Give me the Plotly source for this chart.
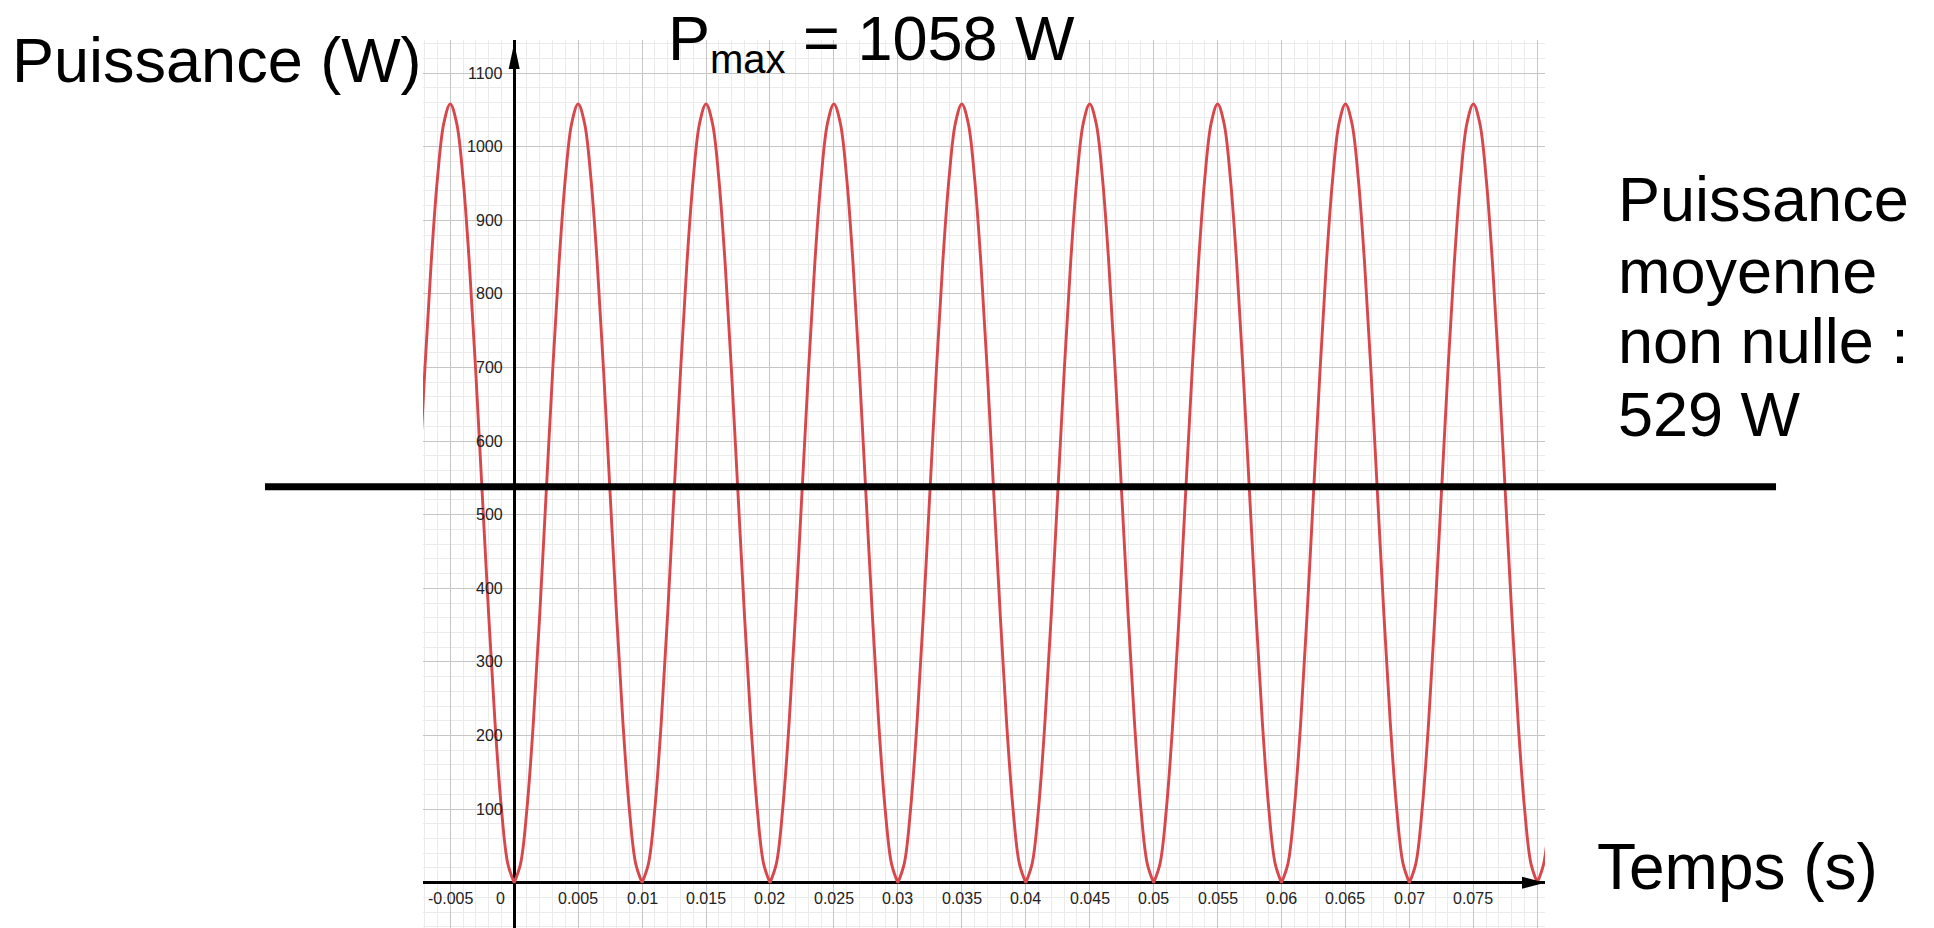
import plotly.graph_objects as go

# ---------------- data ----------------
# one period of the power curve (period 0.01 s), sampled every 0.0005 s
cycle_offsets = [0.0, 0.0005, 0.001, 0.0015, 0.002, 0.0025, 0.003, 0.0035, 0.004, 0.0045,
                 0.005, 0.0055, 0.006, 0.0065, 0.007, 0.0075, 0.008, 0.0085, 0.009, 0.0095, 0.01]
cycle_values = [0, 25.9, 101.0, 218.1, 365.5, 529, 692.5, 839.9, 957.0, 1032.1,
                1058, 1032.1, 957.0, 839.9, 692.5, 529, 365.5, 218.1, 101.0, 25.9, 0]
cycle_starts = [-0.01, 0.0, 0.01, 0.02, 0.03, 0.04, 0.05, 0.06, 0.07, 0.08]

x_tick_vals = [-0.005, 0, 0.005, 0.01, 0.015, 0.02, 0.025, 0.03, 0.035, 0.04,
               0.045, 0.05, 0.055, 0.06, 0.065, 0.07, 0.075]
x_tick_text = ["-0.005", "0", "0.005", "0.01", "0.015", "0.02", "0.025", "0.03", "0.035",
               "0.04", "0.045", "0.05", "0.055", "0.06", "0.065", "0.07", "0.075"]
y_tick_vals = [100, 200, 300, 400, 500, 600, 700, 800, 900, 1000, 1100]
y_tick_text = ["100", "200", "300", "400", "500", "600", "700", "800", "900", "1000", "1100"]

mean_line_level = 538          # level where the thick black line is drawn
y_axis_tip = 1141              # tip of the vertical axis arrow

title_left = "Puissance (W)"
title_top = "P<sub><span style='font-size:40px'>max</span></sub> = 1058 W"
right_lines = ["Puissance", "moyenne", "non nulle :", "529 W"]
x_title = "Temps (s)"

# ---------------- figure ----------------
X_RANGE = [-0.00713, 0.0806]
Y_RANGE = [-61.6, 1145]

xs, ys = [], []
for s in cycle_starts:
    for o, v in zip(cycle_offsets, cycle_values):
        xs.append(s + o)
        ys.append(v)

fig = go.Figure()
fig.add_trace(go.Scatter(x=xs, y=ys, mode="lines", line=dict(color="#d7474c", width=2.9, shape="spline"),
                         hoverinfo="skip", showlegend=False))

BIG = dict(family="Liberation Sans, Arial, sans-serif", size=63, color="black")
TICKF = dict(family="Liberation Sans, Arial, sans-serif", size=16, color="#222222")

annotations = []
for v, t in zip(x_tick_vals, x_tick_text):
    annotations.append(dict(x=v, y=0, xref="x", yref="y", text=t, showarrow=False,
                            font=TICKF, xanchor="center", yanchor="middle",
                            yshift=-16, xshift=(-14 if t == "0" else 0)))
for v, t in zip(y_tick_vals, y_tick_text):
    annotations.append(dict(x=0, y=v, xref="x", yref="y", text=t, showarrow=False,
                            font=TICKF, xanchor="right", yanchor="middle", xshift=-9))

annotations.append(dict(x=-0.3681, y=0.977, xref="paper", yref="paper", text=title_left,
                        showarrow=False, font=BIG, xanchor="left", yanchor="middle"))
annotations.append(dict(x=0.2166, y=0.998, xref="paper", yref="paper", text=title_top,
                        showarrow=False, font=BIG, xanchor="left", yanchor="middle"))
right_y = [0.821, 0.740, 0.661, 0.579]
for t, yy in zip(right_lines, right_y):
    annotations.append(dict(x=1.0633, y=yy, xref="paper", yref="paper", text=t,
                            showarrow=False, font=BIG, xanchor="left", yanchor="middle"))
annotations.append(dict(x=1.0445, y=0.0687, xref="paper", yref="paper", text=x_title,
                        showarrow=False, font=dict(BIG, size=64), xanchor="left", yanchor="middle"))

shapes = [
    dict(type="line", xref="paper", yref="y", x0=-0.1408, x1=1.2059,
         y0=mean_line_level, y1=mean_line_level, line=dict(color="black", width=7), layer="above"),
    dict(type="path", xref="x", yref="y", xsizemode="pixel", ysizemode="pixel",
         xanchor=0, yanchor=y_axis_tip, path="M -5.5 -26 L 0 0 L 5.5 -26 Z",
         fillcolor="black", line=dict(width=0)),
    dict(type="path", xref="x", yref="y", xsizemode="pixel", ysizemode="pixel",
         xanchor=X_RANGE[1], yanchor=0, path="M -23 -6 L 0 0 L -23 6 Z",
         fillcolor="black", line=dict(width=0)),
]

fig.update_layout(
    width=1934, height=928,
    margin=dict(l=423, r=389, t=40, b=0),
    paper_bgcolor="white", plot_bgcolor="white",
    showlegend=False,
    annotations=annotations, shapes=shapes,
    xaxis=dict(range=X_RANGE, tick0=0, dtick=0.005, showgrid=True, gridcolor="#c6c6c6", gridwidth=1,
               showticklabels=False, ticks="", zeroline=True, zerolinecolor="black", zerolinewidth=2.5,
               showline=False, fixedrange=True,
               minor=dict(tick0=0, dtick=0.001, showgrid=True, gridcolor="#ebebeb", gridwidth=1)),
    yaxis=dict(range=Y_RANGE, tick0=0, dtick=100, showgrid=True, gridcolor="#c6c6c6", gridwidth=1,
               showticklabels=False, ticks="", zeroline=True, zerolinecolor="black", zerolinewidth=2.5,
               showline=False, fixedrange=True,
               minor=dict(tick0=0, dtick=20, showgrid=True, gridcolor="#ebebeb", gridwidth=1)),
)

fig.write_html("out.html", config={"displayModeBar": False},
               post_script="document.body.style.margin='0';document.body.style.overflow='hidden';")
